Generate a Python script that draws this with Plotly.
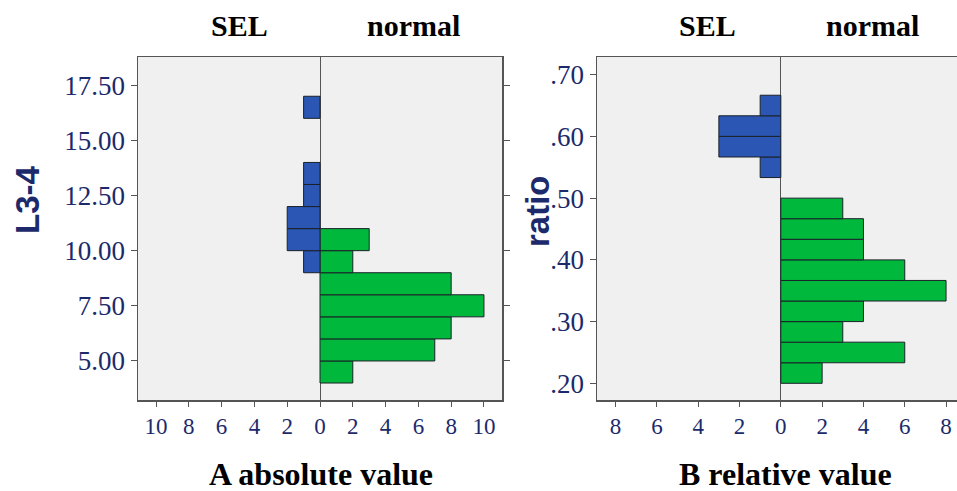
import plotly.graph_objects as go

# ---- data ----
# Panel A: L3-4 absolute value (bins of width 1)
a_normal_bins = [4.5, 5.5, 6.5, 7.5, 8.5, 9.5, 10.5]
a_normal_counts = [2, 7, 8, 10, 8, 2, 3]
a_sel_bins = [9.5, 10.5, 11.5, 12.5, 13.5, 16.5]
a_sel_counts = [1, 2, 2, 1, 1, 1]
a_ytickvals = [5.0, 7.5, 10.0, 12.5, 15.0, 17.5]
a_yticktext = ["5.00", "7.50", "10.00", "12.50", "15.00", "17.50"]
a_xtickvals = [-10, -8, -6, -4, -2, 0, 2, 4, 6, 8, 10]

# Panel B: ratio relative value (bins of width 1/30)
b_normal_bins = [0.2167, 0.25, 0.2833, 0.3167, 0.35, 0.3833, 0.4167, 0.45, 0.4833]
b_normal_counts = [2, 6, 3, 4, 8, 6, 4, 4, 3]
b_sel_bins = [0.55, 0.5833, 0.6167, 0.65]
b_sel_counts = [1, 3, 3, 1]
b_ytickvals = [0.2, 0.3, 0.4, 0.5, 0.6, 0.7]
b_yticktext = [".20", ".30", ".40", ".50", ".60", ".70"]
b_xtickvals = [-8, -6, -4, -2, 0, 2, 4, 6, 8]

BLUE = "#2b56b4"
GREEN = "#00b93c"
NAVY = "#1c2a6b"
EDGE = "#1a2228"
SERIF = "Liberation Serif"
SANS = "Liberation Sans"

W, H = 957, 491

fig = go.Figure()

def bar(y, x, color, xa, ya, width):
    return go.Bar(y=y, x=x, orientation="h", width=width,
                  marker=dict(color=color, line=dict(color=EDGE, width=1)),
                  xaxis=xa, yaxis=ya, showlegend=False, hoverinfo="skip")

fig.add_trace(bar(a_normal_bins, a_normal_counts, GREEN, "x", "y", 1.0))
fig.add_trace(bar(a_sel_bins, [-c for c in a_sel_counts], BLUE, "x", "y", 1.0))
fig.add_trace(bar(b_normal_bins, b_normal_counts, GREEN, "x2", "y2", 1 / 30))
fig.add_trace(bar(b_sel_bins, [-c for c in b_sel_counts], BLUE, "x2", "y2", 1 / 30))

ydom = [(H - 400) / H, (H - 57) / H]

common_x = dict(showgrid=False, showline=True, linecolor="#555555", linewidth=1.5,
                ticks="outside", ticklen=5, tickcolor="#555555",
                zeroline=True, zerolinecolor="#555555", zerolinewidth=1,
                tickfont=dict(family=SERIF, size=23, color=NAVY), fixedrange=True)
common_y = dict(showgrid=False, showline=True, linecolor="#555555", linewidth=1.5,
                ticks="outside", ticklen=6, tickcolor="#555555", zeroline=False,
                tickfont=dict(family=SERIF, size=27, color=NAVY), fixedrange=True)

fig.update_layout(
    width=W, height=H,
    margin=dict(l=0, r=0, t=0, b=0),
    paper_bgcolor="white", plot_bgcolor="#f0f0f0",
    barmode="overlay", bargap=0,
    xaxis=dict(domain=[138 / W, 502 / W], range=[-11.1, 11.1],
               tickvals=a_xtickvals, ticktext=[str(abs(v)) for v in a_xtickvals],
               mirror=True, anchor="y", **common_x),
    yaxis=dict(domain=ydom, range=[3.23, 18.78], tickvals=a_ytickvals,
               ticktext=a_yticktext, mirror="ticks", anchor="x", **common_y),
    xaxis2=dict(domain=[597 / W, 1.0], range=[-8.9, 8.53],
                tickvals=b_xtickvals, ticktext=[str(abs(v)) for v in b_xtickvals],
                mirror=True, anchor="y2", **common_x),
    yaxis2=dict(domain=ydom, range=[0.173, 0.7286], tickvals=b_ytickvals,
                ticktext=b_yticktext, anchor="x2", **common_y),
)

def ann(text, x, y, size, family, color, bold=True, angle=0):
    fig.add_annotation(text=f"<b>{text}</b>" if bold else text,
                       x=x / W, y=1 - y / H, xref="paper", yref="paper",
                       showarrow=False, textangle=angle,
                       font=dict(family=family, size=size, color=color),
                       xanchor="center", yanchor="middle")

ann("SEL", 240, 26, 30, SERIF, "black")
ann("normal", 413, 26, 30, SERIF, "black")
ann("SEL", 707, 26, 30, SERIF, "black")
ann("normal", 872, 26, 30, SERIF, "black")
ann("A absolute value", 321, 474, 32, SERIF, "black")
ann("B relative value", 785, 474, 32, SERIF, "black")
ann("L3-4", 27, 200, 33, SANS, NAVY, angle=-90)
ann("ratio", 537, 211, 33, SANS, NAVY, angle=-90)

fig.write_html("out.html",
               config={"displayModeBar": False, "staticPlot": True},
               post_script="document.body.style.margin='0';document.body.style.overflow='hidden';")
